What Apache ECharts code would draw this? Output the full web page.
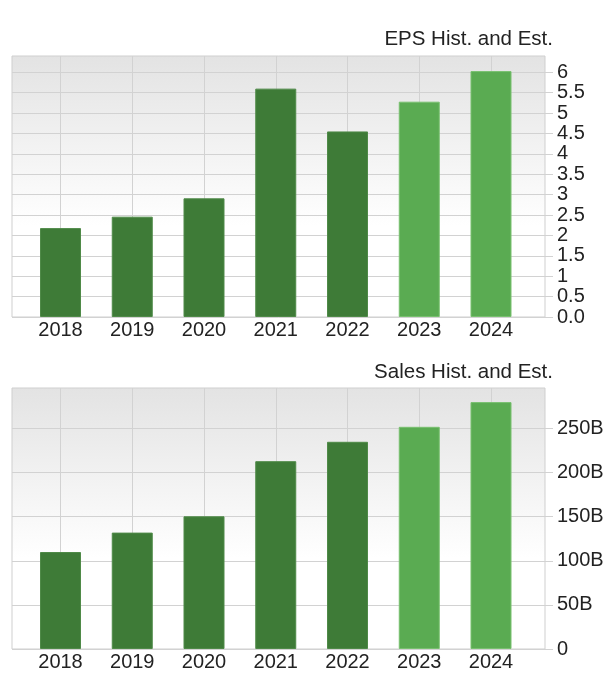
<!DOCTYPE html>
<html>
<head>
<meta charset="utf-8">
<script src="https://cdn.jsdelivr.net/npm/echarts@6/dist/echarts.min.js"></script>
<style>
    html, body { margin: 0; padding: 0; background: #fff; }
    #main { width: 615px; height: 685px; }
</style>
</head>
<body>
<div id="main"></div>
<script>
var years = ['2018', '2019', '2020', '2021', '2022', '2023', '2024'];
var isEstimate = [false, false, false, false, false, true, true];
var epsValues = [2.18, 2.46, 2.91, 5.60, 4.55, 5.28, 6.03];
var salesValues = [110, 132, 150.5, 213, 235, 252, 280]; // billions

var epsTicks = [0, 0.5, 1, 1.5, 2, 2.5, 3, 3.5, 4, 4.5, 5, 5.5, 6];
var epsTickLabels = ['0.0', '0.5', '1', '1.5', '2', '2.5', '3', '3.5', '4', '4.5', '5', '5.5', '6'];
var salesTicks = [0, 50, 100, 150, 200, 250];
var salesTickLabels = ['0', '50B', '100B', '150B', '200B', '250B'];

var FONT = '"Liberation Sans", Arial, sans-serif';
var GRID_LINE = '#d2d2d2';
var DARK = '#3e7b37';
var LIGHT = '#5aab52';

var PLOT_H = 261;

// each panel: frame grid (background box), tick grid (0..last tick, carries y labels),
// data grid (spans first..last category centre, carries bars)
var panels = [
    {title: 'EPS Hist. and Est.', titleTop: 29, top: 56, max: 6.4, values: epsValues, ticks: epsTicks, labels: epsTickLabels},
    {title: 'Sales Hist. and Est.', titleTop: 362, top: 388, max: 296, values: salesValues, ticks: salesTicks, labels: salesTickLabels}
];

var option = {
    animation: false,
    backgroundColor: '#fff',
    textStyle: {fontFamily: FONT},
    title: [],
    grid: [],
    xAxis: [],
    yAxis: [],
    series: []
};

panels.forEach(function (p, i) {
    var frame = i * 3, tick = i * 3 + 1, data = i * 3 + 2;
    var last = p.ticks[p.ticks.length - 1];
    var tickH = PLOT_H * last / p.max;

    option.title.push({
        text: p.title,
        right: 62,
        top: p.titleTop,
        padding: 0,
        textStyle: {fontFamily: FONT, fontSize: 20.5, fontWeight: 'normal', color: '#222'}
    });

    // frame
    option.grid.push({
        left: 12, width: 533, top: p.top, height: PLOT_H,
        show: true,
        borderColor: '#cfcfcf',
        borderWidth: 1,
        backgroundColor: new echarts.graphic.LinearGradient(0, 0, 0, 1, [
            {offset: 0, color: '#e3e3e3'},
            {offset: 0.65, color: '#ffffff'},
            {offset: 1, color: '#ffffff'}
        ])
    });
    option.xAxis.push({type: 'value', gridIndex: frame, min: 0, max: 1, show: false});
    option.yAxis.push({type: 'value', gridIndex: frame, min: 0, max: 1, show: false});

    // ticks
    option.grid.push({left: 12, width: 533, top: p.top + PLOT_H - tickH, height: tickH, show: false});
    option.xAxis.push({type: 'value', gridIndex: tick, min: 0, max: 1, show: false});
    option.yAxis.push({
        type: 'value',
        gridIndex: tick,
        position: 'right',
        min: 0,
        max: last,
        interval: p.ticks[1],
        axisLine: {show: false, onZero: false},
        axisTick: {show: true, length: 8, lineStyle: {color: GRID_LINE}},
        axisLabel: {
            margin: 12,
            fontFamily: FONT,
            fontSize: 20,
            color: '#222',
            formatter: function (v) {
                var k = p.ticks.indexOf(v);
                return k >= 0 ? p.labels[k] : '';
            }
        },
        splitLine: {show: true, lineStyle: {color: GRID_LINE, width: 1}}
    });

    // data
    option.grid.push({left: 60.5, width: 430.5, top: p.top, height: PLOT_H, show: false});
    option.xAxis.push({
        type: 'category',
        gridIndex: data,
        data: years,
        boundaryGap: false,
        axisLine: {show: false, onZero: false},
        axisTick: {show: false},
        axisLabel: {fontFamily: FONT, fontSize: 20, color: '#222', margin: 3},
        splitLine: {show: true, lineStyle: {color: GRID_LINE, width: 1}}
    });
    option.yAxis.push({type: 'value', gridIndex: data, min: 0, max: p.max, show: false});

    option.series.push({
        type: 'bar',
        xAxisIndex: data,
        yAxisIndex: data,
        barWidth: 41,
        clip: false,
        data: p.values.map(function (v, k) {
            return {
                value: v,
                itemStyle: {
                    color: isEstimate[k] ? LIGHT : DARK,
                    borderColor: isEstimate[k] ? '#78c06f' : '#4f8a48',
                    borderWidth: 1
                }
            };
        })
    });
});

var myChart = echarts.init(document.getElementById('main'));
myChart.setOption(option);
</script>
</body>
</html>
